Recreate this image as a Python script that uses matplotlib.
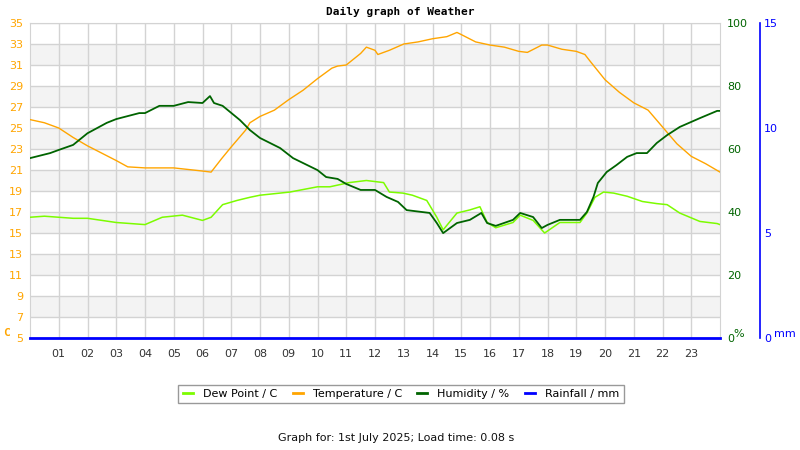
import matplotlib
matplotlib.use('Agg')
import matplotlib.pyplot as plt
from matplotlib.lines import Line2D

# temperature (C)
temp_hours = [0, 0.5, 1, 1.5, 2, 2.5, 3, 3.4, 4, 4.5, 5, 5.67, 6, 6.3, 6.67, 7, 7.5, 7.65, 8, 8.5,
              9, 9.5, 10, 10.5, 10.7, 11, 11.5, 11.7, 12, 12.1, 12.5, 13, 13.5, 14, 14.5, 14.85,
              15, 15.5, 16, 16.5, 17, 17.3, 17.8, 18, 18.5, 19, 19.3, 19.5, 20, 20.5, 21, 21.5,
              22, 22.5, 23, 23.5, 24]
temp = [25.8, 25.5, 25.0, 24.1, 23.3, 22.6, 21.9, 21.3, 21.2, 21.2, 21.2, 21.0, 20.9, 20.8, 22.1,
        23.2, 24.8, 25.5, 26.1, 26.7, 27.7, 28.6, 29.7, 30.7, 30.9, 31.0, 32.1, 32.7, 32.4, 32.0,
        32.4, 33.0, 33.2, 33.5, 33.7, 34.1, 33.9, 33.2, 32.9, 32.7, 32.3, 32.2, 32.9, 32.9, 32.5,
        32.3, 32.0, 31.3, 29.6, 28.4, 27.4, 26.7, 25.1, 23.5, 22.3, 21.6, 20.8]

# dew point (C)
dew_hours = [0, 0.5, 1, 1.5, 2, 2.5, 3, 3.5, 4, 4.6, 5.3, 6, 6.3, 6.7, 7.2, 7.65, 8, 9.04, 10,
             10.43, 11.1, 11.7, 12.3, 12.5, 12.97, 13.3, 13.8, 14.15, 14.37, 14.85, 15.3, 15.65,
             15.9, 16.2, 16.8, 17.05, 17.5, 17.9, 18.43, 19.13, 19.37, 19.65, 19.95, 20.3, 20.77,
             21.3, 21.8, 22.16, 22.6, 23.3, 23.9, 24]
dew = [16.5, 16.6, 16.5, 16.4, 16.4, 16.2, 16.0, 15.9, 15.8, 16.5, 16.7, 16.2, 16.5, 17.7, 18.1,
       18.4, 18.6, 18.9, 19.4, 19.4, 19.8, 20.0, 19.8, 18.9, 18.8, 18.6, 18.1, 16.5, 15.3, 16.9,
       17.2, 17.5, 16.0, 15.5, 16.0, 16.7, 16.2, 15.0, 16.0, 16.0, 16.9, 18.4, 18.9, 18.8, 18.5,
       18.0, 17.8, 17.7, 16.9, 16.1, 15.9, 15.8]

# humidity (%)
hum_hours = [0, 0.7, 1, 1.5, 2, 2.67, 3, 3.8, 4, 4.5, 5, 5.5, 6, 6.26, 6.4, 6.7, 7.3, 7.65, 8,
             8.7, 9.15, 10, 10.3, 10.7, 11, 11.5, 12, 12.4, 12.8, 13.1, 13.9, 14.15, 14.37, 14.85,
             15.3, 15.7, 15.9, 16.2, 16.8, 17.05, 17.5, 17.8, 18, 18.43, 19.13, 19.37, 19.6,
             19.75, 20.06, 20.4, 20.77, 21.1, 21.46, 21.8, 22.16, 22.6, 23.3, 23.9, 24]
hum = [57.1, 58.7, 59.7, 61.3, 65.0, 68.3, 69.5, 71.4, 71.4, 73.7, 73.7, 74.9, 74.6, 76.8, 74.6,
       73.7, 69.2, 66.0, 63.5, 60.3, 57.1, 53.3, 51.1, 50.5, 48.9, 47.0, 47.0, 44.8, 43.2, 40.6,
       39.7, 36.5, 33.3, 36.5, 37.5, 39.7, 36.5, 35.6, 37.5, 39.7, 38.4, 34.9, 35.9, 37.5, 37.5,
       40.0, 44.8, 49.2, 52.7, 54.9, 57.5, 58.7, 58.7, 61.9, 64.4, 67.0, 69.8, 72.1, 72.1]

# rainfall (mm)
rain_hours = [0, 24]
rain = [0, 0]

hour_labels = ['%02d' % h for h in range(1, 24)]
temp_ticks = list(range(5, 36, 2))
hum_ticks = [0, 20, 40, 60, 80, 100]
rain_ticks = [0, 5, 10, 15]

ORANGE = '#ffa500'
GREEN = '#006400'
LIME = '#7cfc00'
BLUE = '#0000ff'
GRID = '#d3d3d3'

fig = plt.figure(figsize=(8, 4.5), dpi=100)
ax = fig.add_axes([30/800, 1-338/450, 690/800, 315/450])

ax.set_xlim(0, 24)
ax.set_ylim(5, 35)
for lo in range(7, 35, 4):
    ax.axhspan(lo, lo + 2, color='#f3f3f3', zorder=0, lw=0)
for t in temp_ticks:
    ax.axhline(t, color=GRID, lw=1, zorder=1)
for h in range(1, 24):
    ax.axvline(h, color=GRID, lw=1, zorder=1)
for s in ax.spines.values():
    s.set_color(GRID)

ax.plot(dew_hours, dew, color=LIME, lw=1.1, zorder=3)
ax.plot(temp_hours, temp, color=ORANGE, lw=1, zorder=4)

ax.set_xticks(range(1, 24))
ax.set_xticklabels(hour_labels, color='#333333', fontsize=8)
ax.set_yticks(temp_ticks)
ax.set_yticklabels([str(t) for t in temp_ticks], color=ORANGE, fontsize=8)
ax.tick_params(axis='both', length=0, pad=5)
ax.tick_params(axis='x', pad=8)

axh = ax.twinx()
axh.set_ylim(0, 100)
axh.plot(hum_hours, hum, color=GREEN, lw=1.3, zorder=5)
axh.set_yticks(hum_ticks)
axh.set_yticklabels([str(v) for v in hum_ticks], color=GREEN, fontsize=8)
axh.tick_params(axis='y', length=0, pad=5)
for s in axh.spines.values():
    s.set_visible(False)

axr = ax.twinx()
axr.set_ylim(0, 15)
axr.spines['right'].set_position(('axes', (760 - 30) / 690))
axr.spines['right'].set_color(BLUE)
axr.spines['right'].set_linewidth(1.2)
for k in ['top', 'left', 'bottom']:
    axr.spines[k].set_visible(False)
axr.plot(rain_hours, rain, color=BLUE, lw=2, clip_on=False, zorder=6)
axr.set_yticks(rain_ticks)
axr.set_yticklabels([str(v) for v in rain_ticks], color=BLUE, fontsize=8)
axr.tick_params(axis='y', length=0, pad=3)

fig.text(400/800, 1-12/450, 'Daily graph of Weather', ha='center', va='center',
         family='DejaVu Sans Mono', weight='bold', fontsize=8)
fig.text(6/800, 1-333/450, 'C', ha='center', va='center', color=ORANGE,
         family='DejaVu Sans Mono', weight='bold', fontsize=8)
fig.text(739/800, 1-334/450, '%', ha='center', va='center', color=GREEN, fontsize=8)
fig.text(785/800, 1-334/450, 'mm', ha='center', va='center', color=BLUE, fontsize=8)

handles = [Line2D([], [], color=LIME, lw=2), Line2D([], [], color=ORANGE, lw=2),
           Line2D([], [], color=GREEN, lw=2), Line2D([], [], color=BLUE, lw=2)]
names = ['Dew Point / C', 'Temperature / C', 'Humidity / %', 'Rainfall / mm']
leg = fig.legend(handles, names, loc='center', bbox_to_anchor=(401/800, 1-394/450), ncol=4,
                 fontsize=8, frameon=True, fancybox=False, handlelength=0.9,
                 handletextpad=0.9, columnspacing=1.4, borderpad=0.4, borderaxespad=0)
leg.get_frame().set_edgecolor('#808080')
leg.get_frame().set_linewidth(1)

fig.text(396/800, 1-438/450, 'Graph for: 1st July 2025; Load time: 0.08 s', ha='center',
         va='center', fontsize=8, color='#111111')

fig.savefig('out.png', dpi=100)
